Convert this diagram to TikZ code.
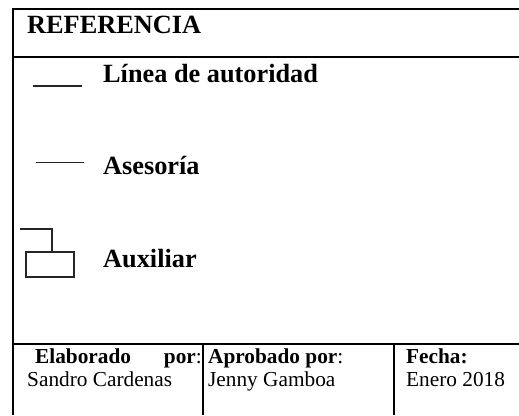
\documentclass[tikz,border=0pt]{standalone}
\usepackage{fontspec}
\setmainfont{Liberation Serif}
\usetikzlibrary{positioning}
\tikzset{
  frame/.style={draw=black, line width=2.2pt},
  mark line/.style={draw=black!85, line width=1.3pt},
  head/.style={anchor=base west, inner sep=0pt, font=\fontsize{26.3}{30}\selectfont\bfseries},
  foot/.style={anchor=base west, inner sep=0pt, font=\fontsize{21.3}{24}\selectfont},
}
\begin{document}
\begin{tikzpicture}[x=1pt, y=-1pt]
  \useasboundingbox (0,0) rectangle (519,415);
  % outer frame and rows
  \draw[frame] (519,9) -- (13,9) -- (13,415);
  \draw[frame] (13,57) -- (519,57);
  \draw[frame] (13,344) -- (519,344);
  \draw[frame] (203,344) -- (203,415);
  \draw[frame] (394,344) -- (394,415);
  % heading and legend texts
  \node[head] (ref)  at (27,33)   {REFERENCIA};
  \node[head] (auth) at (103,82)  {Línea de autoridad};
  \node[head] (ases) at (103,174) {Asesoría};
  \node[head] (aux)  at (103,267) {Auxiliar};
  % legend marks
  \draw[mark line] (33,86) -- (82,86);
  \draw[mark line, line width=1pt] (36,162) -- (84,162);
  \draw[mark line] (20,229) -| (52,252);
  \draw[mark line] (26,252) rectangle (74,277);
  % footer cells
  \node[foot] (elab)  at (35,363)  {\textbf{Elaborado}};
  \node[foot, anchor=base east] (elabp) at (202,363) {\textbf{por}:};
  \node[foot] (name1) at (27,386)  {Sandro Cardenas};
  \node[foot] (aprob) at (208,363) {\textbf{Aprobado por}:};
  \node[foot] (name2) at (208,386) {Jenny Gamboa};
  \node[foot] (fecha) at (406,363) {\textbf{Fecha:}};
  \node[foot] (date)  at (406,386) {Enero 2018};
\end{tikzpicture}
\end{document}
